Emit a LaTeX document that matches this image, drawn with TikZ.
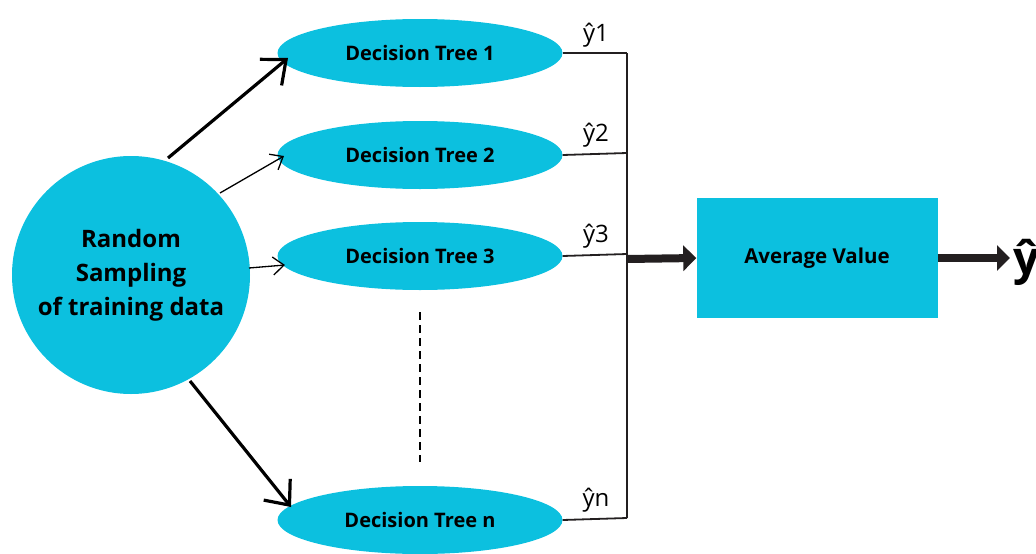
\documentclass[tikz,border=0pt]{standalone}
\usepackage{fontspec}
\setmainfont{Open Sans}
\usetikzlibrary{arrows.meta,shapes.geometric}
\definecolor{rfcyan}{HTML}{0CC0DF}
\definecolor{rfdark}{HTML}{231F20}
\begin{document}
\begin{tikzpicture}[x=1pt,y=-1pt,
  tree/.style={ellipse,fill=rfcyan,minimum width=285pt,minimum height=68pt,inner sep=0pt,font=\bfseries\fontsize{20}{24}\selectfont},
  src/.style={circle,fill=rfcyan,minimum size=238pt,inner sep=0pt,align=center,font=\bfseries\fontsize{24}{34}\selectfont},
  avg/.style={rectangle,fill=rfcyan,minimum width=241pt,minimum height=120pt,inner sep=0pt,font=\bfseries\fontsize{20.5}{24}\selectfont},
  thickarr/.style={line width=3.2pt,-{Straight Barb[length=20pt,width=34pt,line width=3.2pt]}},
  thinarr/.style={line width=1.3pt,-{Straight Barb[length=11pt,width=18pt,line width=1.3pt]}},
  outline/.style={line width=1.8pt,rfdark},
  lab/.style={font=\fontsize{24}{28}\selectfont,inner sep=0pt},
  bigarr/.style={line width=8pt,rfdark,-{Triangle[length=13pt,width=25pt]}}
]
\useasboundingbox (0,0) rectangle (1036,554);
\node[src] (src) at (131,275) {Random\\Sampling\\of training data};
\node[tree] (t1) at (420,53) {Decision Tree 1};
\node[tree] (t2) at (420,155) {Decision Tree 2};
\node[tree] (t3) at (420,256) {Decision Tree 3};
\node[tree] (tn) at (420,520) {Decision Tree n};
\node[avg] (avg) at (817,258) {Average Value};

\coordinate (j1) at (627,53);
\coordinate (j2) at (627,153);
\coordinate (j3) at (627,254);
\coordinate (jn) at (627,518);
\coordinate (jm) at (627,259);
\coordinate (d1) at (420,312);
\coordinate (d2) at (420,462);

% arrows from source
\coordinate (s1) at (168,158);
\coordinate (s2) at (220,193);
\coordinate (s3) at (249,268);
\coordinate (sn) at (190,381);
\coordinate (e1) at (288,58);
\coordinate (e2) at (284,156);
\coordinate (e3) at (285,265);
\coordinate (en) at (291,507);
\draw[thickarr] (s1) -- (e1);
\draw[thinarr] (s2) -- (e2);
\draw[thinarr] (s3) -- (e3);
\draw[thickarr] (sn) -- (en);

% outputs
\draw[outline] (t1.east) -- (j1);
\draw[outline] (t2.east) -- (j2);
\draw[outline] (t3.east) -- (j3);
\draw[outline] (tn.east) -- (jn);
\draw[outline] (j1) -- (jn);
\node[lab,anchor=south] (l1) at (596,47) {ŷ1};
\node[lab,anchor=south] (l2) at (596,147) {ŷ2};
\node[lab,anchor=south] (l3) at (596,248) {ŷ3};
\node[lab,anchor=south] (ln) at (596,512) {ŷn};

\draw[line width=2.2pt,dash pattern=on 8pt off 5pt] (d1) -- (d2);

\draw[bigarr] (jm) -- (avg.west);
\coordinate (fe) at (1010,258);
\draw[bigarr] (avg.east) -- (fe);
\node[anchor=west,inner sep=0pt,font=\bfseries\fontsize{46}{50}\selectfont] (y) at (1013,262) {ŷ};
\end{tikzpicture}
\end{document}
